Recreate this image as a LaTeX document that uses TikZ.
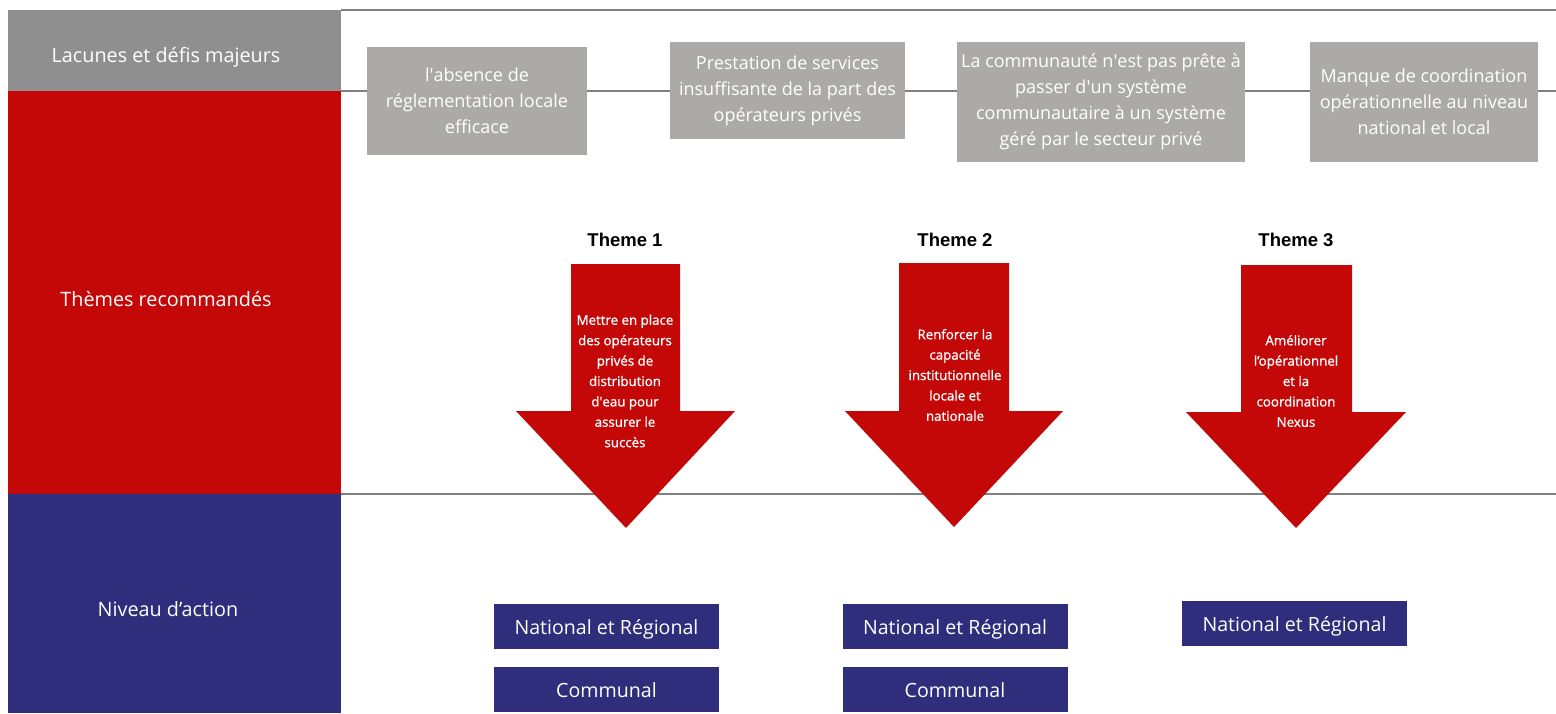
\documentclass[tikz,border=0pt]{standalone}
\usepackage{fontspec}
\setmainfont{Open Sans}
\newfontfamily\themefont{Liberation Sans}
\newfontfamily\arrowfont{Open Sans}[FakeBold=1.1]
\definecolor{headGray}{HTML}{8F8F8F}
\definecolor{boxGray}{HTML}{ACA9A9}
\definecolor{ruleGray}{HTML}{808080}
\definecolor{themeRed}{HTML}{C40808}
\definecolor{levelBlue}{HTML}{2E2E7C}
\newcommand{\sq}{\textquotesingle}
\begin{document}
\begin{tikzpicture}[x=1pt,y=-1pt,
  rule/.style={draw=ruleGray, line width=1.6pt},
  rowlabel/.style={text=white, font=\fontsize{19.8}{23}\selectfont},
  gapbox/.style={fill=boxGray, text=white, align=center, inner sep=0pt,
    font=\fontsize{18}{26}\selectfont},
  themelabel/.style={font=\themefont\bfseries\fontsize{18.5}{20}\selectfont},
  bigarrow/.style={fill=themeRed, draw=none},
  arrowtext/.style={text=white, align=center, inner sep=0pt,
    font=\arrowfont\fontsize{13.3}{20.4}\selectfont},
  levelbox/.style={fill=levelBlue, text=white, inner sep=0pt,
    text height=16pt, text depth=0pt,
    minimum width=225pt, minimum height=45pt, font=\fontsize{19.6}{22}\selectfont}
]
\useasboundingbox (0,0) rectangle (1556,713);
\fill[white] (0,0) rectangle (1556,713);

% horizontal rules of the table
\coordinate (topL) at (341,10);   \coordinate (topR) at (1556,10);
\coordinate (midL) at (341,91);   \coordinate (midR) at (1556,91);
\coordinate (lowL) at (341,494);  \coordinate (lowR) at (1556,494);
\draw[rule] (topL) -- (topR);
\draw[rule] (midL) -- (midR);
\draw[rule] (lowL) -- (lowR);

% left column: row headers
\fill[headGray] (8,10) rectangle (341,91);
\fill[themeRed] (8,91) rectangle (341,494);
\fill[levelBlue] (8,494) rectangle (341,713);
\node[rowlabel] (rowGaps) at (166,57) {Lacunes et défis majeurs};
\node[rowlabel] (rowThemes) at (166,299) {Thèmes recommandés};
\node[rowlabel] (rowLevel) at (168,609) {Niveau d’action};

% gaps and challenges
\node[gapbox, minimum width=220pt, minimum height=108pt] (gap1) at (477,101)
  {l\sq absence de\\réglementation locale\\efficace};
\node[gapbox, minimum width=235pt, minimum height=97pt] (gap2) at (787.5,90.5)
  {Prestation de services\\insuffisante de la part des\\opérateurs privés};
\node[gapbox, minimum width=288pt, minimum height=120pt] (gap3) at (1101,102)
  {La communauté n\sq est pas prête à\\passer d\sq un système\\communautaire à un système\\géré par le secteur privé};
\node[gapbox, minimum width=228pt, minimum height=120pt] (gap4) at (1424,102)
  {Manque de coordination\\opérationnelle au niveau\\national et local};

% recommended themes
\node[themelabel] (theme1) at (625,240) {Theme 1};
\node[themelabel] (theme2) at (955,240) {Theme 2};
\node[themelabel] (theme3) at (1296,240) {Theme 3};

\fill[bigarrow] (571,264) -- (680,264) -- (680,411) -- (735,411) -- (626,528)
  -- (516,411) -- (571,411) -- cycle;
\fill[bigarrow] (899,263) -- (1009,263) -- (1009,411) -- (1063,411) -- (954,527)
  -- (845,411) -- (899,411) -- cycle;
\fill[bigarrow] (1241,265) -- (1352,265) -- (1352,412) -- (1406,412) -- (1296,528)
  -- (1186,412) -- (1241,412) -- cycle;

\node[arrowtext] (arrow1) at (625,381)
  {Mettre en place\\des opérateurs\\privés de\\distribution\\d\sq eau pour\\assurer le\\succès};
\node[arrowtext] (arrow2) at (955,375)
  {Renforcer la\\capacité\\institutionnelle\\locale et\\nationale};
\node[arrowtext] (arrow3) at (1296,381)
  {Améliorer\\l’opérationnel\\et la\\coordination\\Nexus};

% levels of action
\node[levelbox] (lvl1a) at (606.5,626.5) {National et Régional};
\node[levelbox] (lvl1b) at (606.5,689.5) {Communal};
\node[levelbox] (lvl2a) at (955,626.5) {National et Régional};
\node[levelbox] (lvl2b) at (955,689.5) {Communal};
\node[levelbox] (lvl3a) at (1294.5,623) {National et Régional};
\end{tikzpicture}
\end{document}
